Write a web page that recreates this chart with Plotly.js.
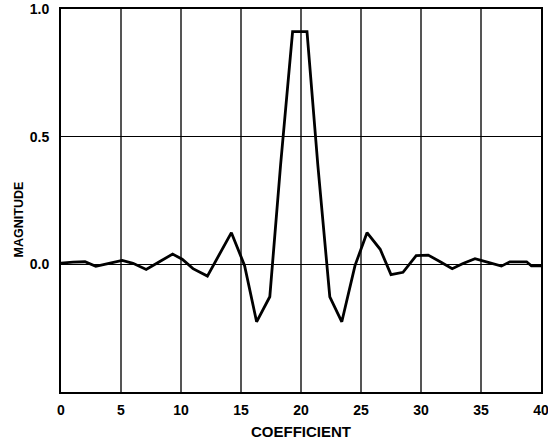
<!DOCTYPE html>
<html>
<head>
<meta charset="utf-8">
<script src="https://cdn.plot.ly/plotly-3.0.1.min.js"></script>
<style>html,body{margin:0;padding:0;background:#fff;}#chart{width:548px;height:444px;}</style>
</head>
<body>
<div id="chart"></div>
<script>
const coefficient = [0, 1, 2, 2.9, 4, 5.1, 6, 7.1, 8.2, 9.3, 10.1, 11.0, 12.2, 13.2, 14.2, 15.3, 16.3, 17.4, 18.3, 19.3, 20.5, 21.4, 22.4, 23.4, 24.5, 25.5, 26.6, 27.5, 28.5, 29.6, 30.6, 31.6, 32.6, 33.5, 34.5, 35.6, 36.7, 37.4, 38.8, 39.2, 40];
const magnitude = [0.005, 0.009, 0.010, -0.008, 0.004, 0.015, 0.004, -0.020, 0.010, 0.040, 0.020, -0.017, -0.046, 0.040, 0.124, -0.005, -0.225, -0.127, 0.39, 0.911, 0.911, 0.39, -0.127, -0.225, -0.005, 0.124, 0.059, -0.040, -0.031, 0.034, 0.036, 0.010, -0.017, 0.003, 0.022, 0.008, -0.007, 0.010, 0.010, -0.006, -0.006];
const xTicks = [0, 5, 10, 15, 20, 25, 30, 35, 40];
const yTicks = [0, 0.5, 1.0];
const yTickText = ['0.0', '0.5', '1.0'];

const fam = 'Liberation Sans, Arial, sans-serif';
const tickFont = {family: fam, size: 14, color: '#000'};

Plotly.newPlot('chart', [{
  x: coefficient, y: magnitude, mode: 'lines', type: 'scatter',
  line: {color: '#000', width: 2.8}, hoverinfo: 'skip'
}], {
  width: 548, height: 444,
  margin: {l: 61, r: 7, t: 9, b: 52},
  paper_bgcolor: '#fff', plot_bgcolor: '#fff',
  showlegend: false,
  font: {family: fam, color: '#000'},
  xaxis: {
    range: [0, 40], tickvals: xTicks, ticktext: xTicks.map(v => '<b>' + v + '</b>'),
    showgrid: true, gridcolor: '#555', gridwidth: 1.3,
    zeroline: false, showline: true, linecolor: '#000', linewidth: 2, mirror: true,
    ticks: '', ticklabelstandoff: 4, ticklabeloverflow: 'allow', tickfont: tickFont,
    title: {text: '<b>COEFFICIENT</b>', font: {family: fam, size: 15, color: '#000'}, standoff: 10}
  },
  yaxis: {
    range: [-0.5, 1.0], tickvals: yTicks, ticktext: yTickText.map(v => '<b>' + v + '</b>'),
    showgrid: true, gridcolor: '#000', gridwidth: 1,
    zeroline: false, showline: true, linecolor: '#000', linewidth: 2, mirror: true,
    ticks: '', ticklabelstandoff: 7, ticklabeloverflow: 'allow', tickfont: tickFont,
    title: {text: ''}
  },
  annotations: [{
    text: '<b>MAGNITUDE</b>', xref: 'paper', yref: 'paper', x: -0.088, y: 0.45,
    xanchor: 'center', yanchor: 'middle', textangle: -90, showarrow: false,
    font: {family: fam, size: 12.5, color: '#000'}
  }]
}, {staticPlot: true});
</script>
</body>
</html>
